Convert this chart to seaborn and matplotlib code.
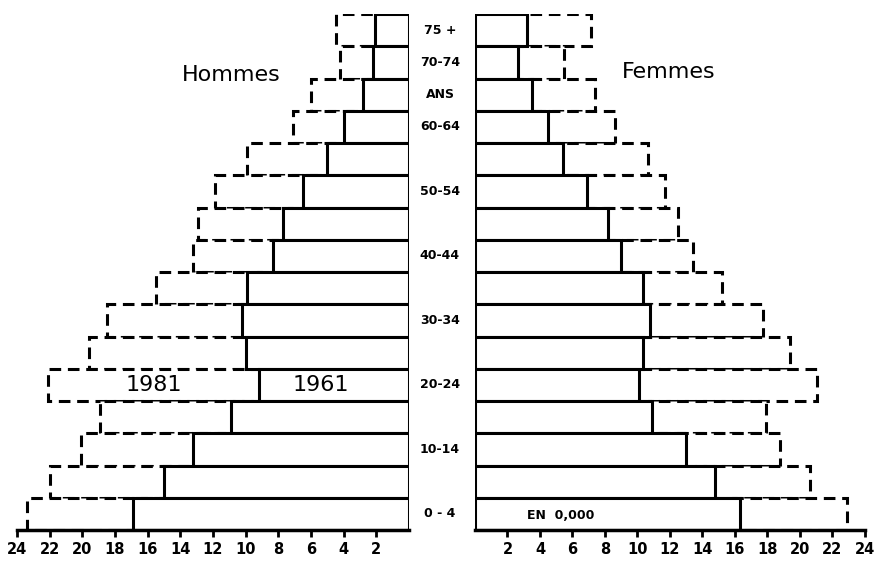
import numpy as np
import pandas as pd
import seaborn as sns
import matplotlib.pyplot as plt
from matplotlib.transforms import blended_transform_factory

# Groupes d'âge, du haut vers le bas
ages = ["75+", "70-74", "65-69", "60-64", "55-59", "50-54", "45-49", "40-44",
        "35-39", "30-34", "25-29", "20-24", "15-19", "10-14", "5-9", "0-4"]

# Effectifs (en 0,000)
hommes_1961 = [2.1, 2.2, 2.8, 4.0, 5.0, 6.5, 7.7, 8.3,
               9.9, 10.2, 10.0, 9.2, 10.9, 13.2, 15.0, 16.9]
hommes_1981 = [4.5, 4.2, 6.0, 7.1, 9.9, 11.9, 12.9, 13.2,
               15.5, 18.5, 19.6, 22.1, 18.9, 20.1, 22.0, 23.4]
femmes_1961 = [3.2, 2.65, 3.5, 4.5, 5.4, 6.9, 8.2, 9.0,
               10.35, 10.75, 10.35, 10.1, 10.9, 13.0, 14.75, 16.3]
femmes_1981 = [7.15, 5.45, 7.4, 8.6, 10.65, 11.7, 12.5, 13.4,
               15.2, 17.7, 19.4, 21.05, 17.9, 18.8, 20.6, 22.9]

# Étiquettes centrales
labels_centre = {"75+": "75 +", "70-74": "70-74", "65-69": "ANS", "60-64": "60-64",
                 "50-54": "50-54", "40-44": "40-44", "30-34": "30-34",
                 "20-24": "20-24", "10-14": "10-14", "0-4": "0 - 4"}
ticks = [2, 4, 6, 8, 10, 12, 14, 16, 18, 20, 22, 24]

df = pd.DataFrame({"age": ages, "h61": hommes_1961, "h81": hommes_1981,
                   "f61": femmes_1961, "f81": femmes_1981})

sns.set_style("white")
plt.rcParams['font.family'] = ['DejaVu Sans']
plt.rcParams['text.color'] = 'black'

fig = plt.figure(figsize=(8.78, 5.63), dpi=100)
ax_h = fig.add_axes([17 / 878, 33 / 563, 392 / 878, 516 / 563])
ax_f = fig.add_axes([475 / 878, 33 / 563, 390 / 878, 516 / 563])

lw = 2.2
for ax, c81, c61 in [(ax_h, "h81", "h61"), (ax_f, "f81", "f61")]:
    sns.barplot(data=df, x=c81, y="age", orient="h", width=1.0, color="white",
                saturation=1, edgecolor="black", linewidth=lw,
                linestyle=(0, (3.8, 2.2)), ax=ax, zorder=1)
    sns.barplot(data=df, x=c61, y="age", orient="h", width=1.0, color="white",
                saturation=1, edgecolor="black", linewidth=lw, ax=ax, zorder=2)
    ax.set_ylim(15.5, -0.5)
    ax.set_xlim(0, 24)
    ax.set_xlabel("")
    ax.set_ylabel("")
    ax.set_yticks([])
    ax.set_xticks(ticks)
    ax.set_xticklabels([str(t) for t in ticks], fontsize=10.5, fontweight="bold")
    ax.tick_params(axis="x", direction="out", length=5, width=2, pad=4,
                   bottom=True, colors="black")
    for s in ["top", "left", "right"]:
        ax.spines[s].set_visible(False)
    ax.spines["bottom"].set_linewidth(2.5)
    ax.spines["bottom"].set_color("black")
    ax.patch.set_alpha(0)

ax_h.invert_xaxis()

# Étiquettes des âges au centre
tr = blended_transform_factory(ax_f.transAxes, ax_f.transData)
for i, a in enumerate(ages):
    if a in labels_centre:
        ax_f.text(-35 / 390, i, labels_centre[a], transform=tr, ha="center",
                  va="center", fontsize=9, fontweight="bold", color="black")

ax_h.text(10.9, 1.4, "Hommes", fontsize=16, ha="center", va="center", color="black")
ax_f.text(11.9, 1.3, "Femmes", fontsize=16, ha="center", va="center", color="black")
ax_h.text(15.6, 11, "1981", fontsize=16, ha="center", va="center", zorder=3, color="black")
ax_h.text(5.4, 11, "1961", fontsize=16, ha="center", va="center", zorder=3, color="black")
ax_f.text(5.3, 15.05, "EN  0,000", fontsize=9, fontweight="bold",
          ha="center", va="center", zorder=3, color="black")

fig.savefig("out.png", dpi=100)
